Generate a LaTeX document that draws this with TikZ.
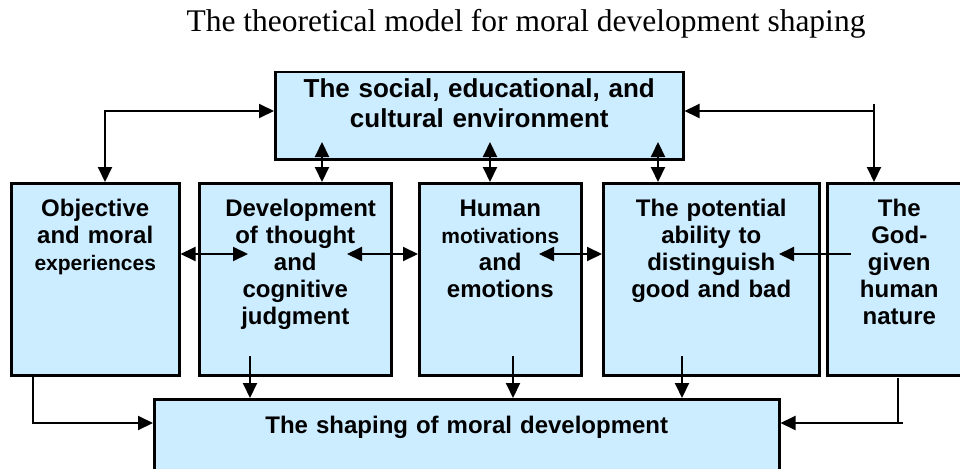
\documentclass[tikz,border=0pt]{standalone}
\usepackage{fontspec}
\setmainfont{Liberation Serif}
\setsansfont{Liberation Sans}
\usetikzlibrary{arrows.meta}

\definecolor{paleblue}{HTML}{CCECFF}
\newcommand\boxfont{\fontsize{24}{27}\selectfont\sffamily\bfseries}
\newcommand\smallboxfont{\fontsize{21}{27}\selectfont}

\begin{document}
\begin{tikzpicture}[
	x = 1pt, y = -1pt,
	>={Triangle[length=15pt,width=14pt]},
	panel/.style = {draw, line width=2.5pt, fill=paleblue, anchor=north west, inner sep=0pt},
	boxtext/.style = {anchor=base, align=center, inner sep=0pt, text width=140pt, font=\boxfont},
	link/.style = {line width=2pt}]

	\useasboundingbox (0,0) rectangle (960,468);

	\node[font=\fontsize{31.5}{36}\selectfont, anchor=base] (title) at (526,32) {The theoretical model for moral development shaping};

	% boxes
	\node[panel, minimum width=408pt, minimum height=87pt] (env) at (274,71) {};
	\node[panel, minimum width=168pt, minimum height=192pt] (obj) at (10,182) {};
	\node[panel, minimum width=192pt, minimum height=192pt] (thought) at (198,182) {};
	\node[panel, minimum width=162pt, minimum height=192pt] (motive) at (418,182) {};
	\node[panel, minimum width=216pt, minimum height=192pt] (ability) at (602,182) {};
	\node[panel, minimum width=144pt, minimum height=192pt] (god) at (826,182) {};
	\node[panel, minimum width=625pt, minimum height=100pt] (shaping) at (153,398) {};

	% texts, first baseline given
	\node[boxtext, text width=400pt, font=\fontsize{26}{30}\selectfont\sffamily\bfseries] (envtxt) at (env.north |- 0,98) {The social, educational, and\\cultural environment};
	\node[boxtext] (objtxt) at (obj.north |- 0,216) {Objective\\and moral\\{\smallboxfont experiences}};
	\node[boxtext] (thoughttxt) at (thought.north |- 0,216) {Development\\of thought\\and\\cognitive\\judgment};
	\node[boxtext] (motivetxt) at (motive.north |- 0,216) {Human\\{\smallboxfont motivations}\\and\\emotions};
	\node[boxtext, text width=200pt] (abilitytxt) at (ability.north |- 0,216) {The potential\\ability to\\distinguish\\good and bad};
	\node[boxtext] (godtxt) at (god.north |- 0,216) {The\\God-\\given\\human\\nature};
	\node[boxtext, text width=600pt] (shapingtxt) at (shaping.north |- 0,433) {The shaping of moral development};

	% environment <-> outer boxes
	\coordinate (tl) at (105,111);
	\coordinate (tr) at (874,111);
	\coordinate (trtop) at (874,104);
	\draw[link, <->] (env.west |- tl) -- (tl) -- (tl |- obj.north);
	\draw[link, <-] (env.east |- tr) -- (tr);
	\draw[link, ->] (trtop) -- (trtop |- god.north);

	% environment <-> middle boxes
	\foreach \x/\b in {322/thought, 490/motive, 658/ability}{
		\coordinate (\b-up) at (\x,142);
		\draw[link, <->] (\b-up) -- (\b.north -| \b-up);
	}

	% across the row
	\coordinate (thoughtin) at (248,254);
	\coordinate (thoughtout) at (347,254);
	\coordinate (motiveout) at (539,254);
	\coordinate (abilityin) at (779,254);
	\coordinate (godout) at (851,254);
	\draw[link, <->] (obj.east |- thoughtin) -- (thoughtin);
	\draw[link, <->] (thoughtout) -- (motive.west |- thoughtout);
	\draw[link, <->] (motiveout) -- (ability.west |- motiveout);
	\draw[link, ->] (godout) -- (abilityin);

	% down to the shaping box
	\foreach \x/\b in {250/thought, 513/motive, 682/ability}{
		\coordinate (\b-down) at (\x,356);
		\draw[link, ->] (\b-down) -- (shaping.north -| \b-down);
	}
	\coordinate (join) at (0,423);
	\draw[link, ->] (obj.south -| 33,0) |- (shaping.west |- join);
	\coordinate (godfoot) at (898,378);
	\coordinate (godjoin) at (903,423);
	\draw[link] (godfoot) -- (godfoot |- godjoin);
	\draw[link, ->] (godjoin) -- (shaping.east |- godjoin);

\end{tikzpicture}
\end{document}
